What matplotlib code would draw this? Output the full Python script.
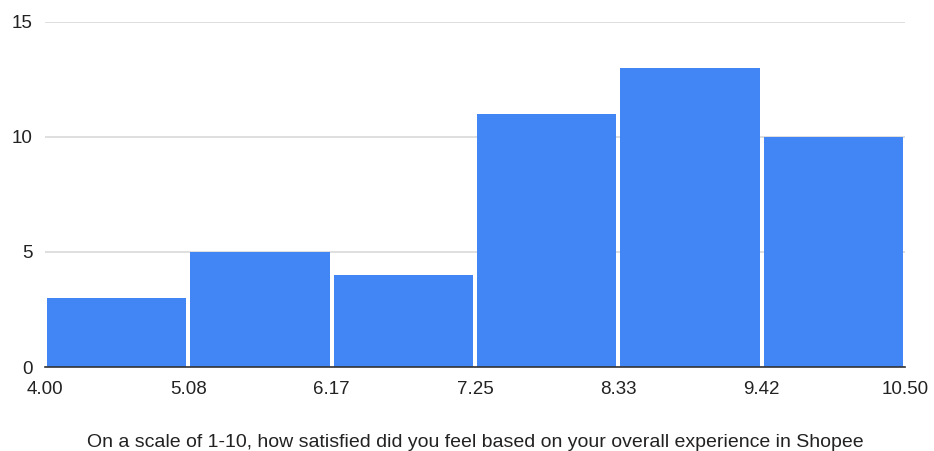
import matplotlib
matplotlib.use("Agg")
import matplotlib.pyplot as plt
import numpy as np

plt.rcParams['font.family'] = ['Liberation Sans', 'DejaVu Sans']

bin_edges = [4.00, 5.0833, 6.1667, 7.25, 8.3333, 9.4167, 10.50]
counts = [3, 5, 4, 11, 13, 10]
xtick_labels = ["4.00", "5.08", "6.17", "7.25", "8.33", "9.42", "10.50"]
yticks = [0, 5, 10, 15]
xlabel = "On a scale of 1-10, how satisfied did you feel based on your overall experience in Shopee"

fig = plt.figure(figsize=(9.34, 4.51), dpi=100)
ax = fig.add_axes([45/934, 1 - 367/451, (905-45)/934, (367-22)/451])

centers = [(bin_edges[i] + bin_edges[i+1]) / 2 for i in range(len(counts))]
ax.hist(centers, bins=bin_edges, weights=counts, rwidth=0.97, color="#4285F4", zorder=2)

ax.set_xlim(bin_edges[0], bin_edges[-1])
ax.set_ylim(0, 15)
ax.set_yticks(yticks)
ax.set_yticklabels([str(v) for v in yticks])
ax.set_xticks(bin_edges)
ax.set_xticklabels(xtick_labels)

ax.grid(axis='y', color="#d9d9d9", linewidth=1.2, zorder=0)
for s in ['top', 'right', 'left']:
    ax.spines[s].set_visible(False)
ax.spines['bottom'].set_color("#333333")
ax.spines['bottom'].set_linewidth(1.2)
ax.spines['bottom'].set_zorder(3)
ax.tick_params(axis='both', length=0, labelsize=13.5, colors="#222222")
ax.tick_params(axis='y', pad=9)
ax.tick_params(axis='x', pad=10)
ax.set_xlabel(xlabel, fontsize=14, color="#222222", labelpad=26)

fig.savefig("out.png", dpi=100, facecolor="white")
